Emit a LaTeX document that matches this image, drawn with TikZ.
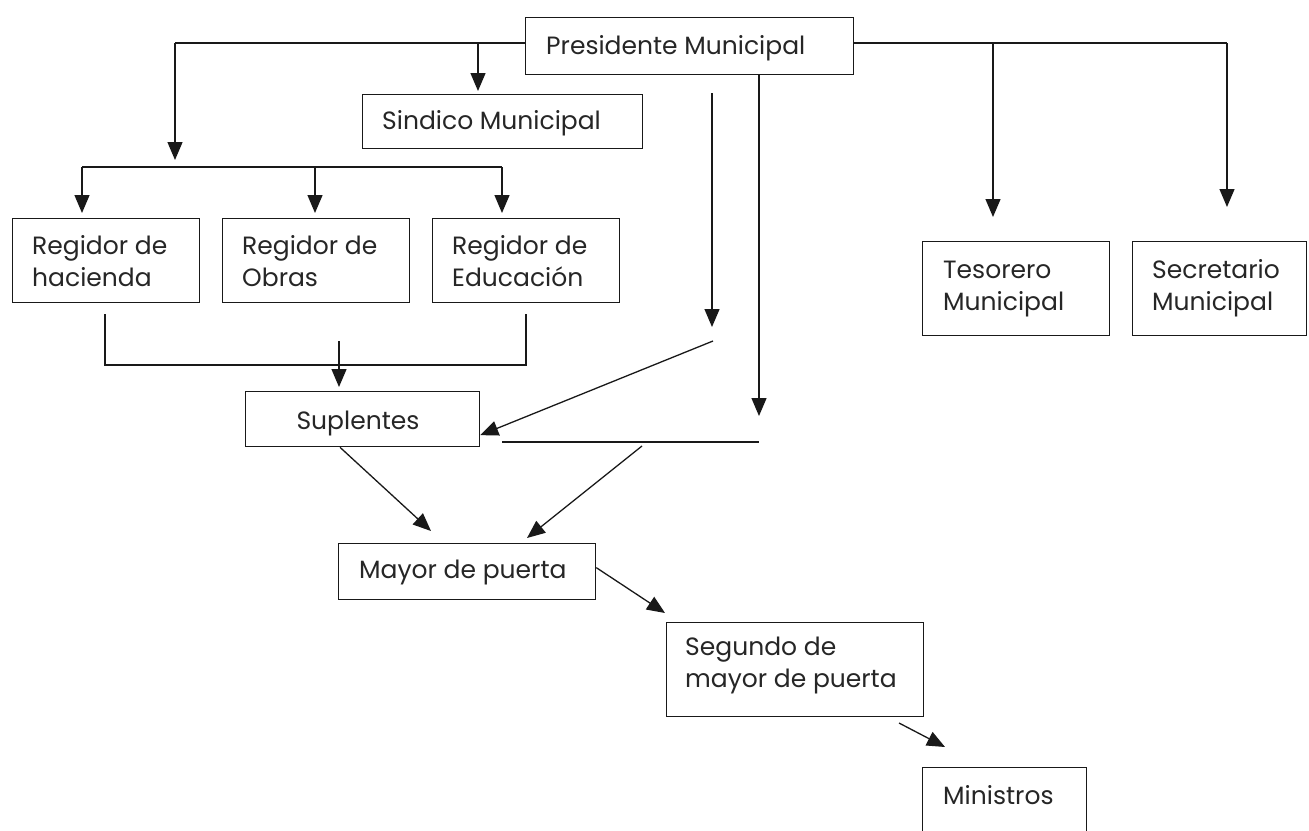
\documentclass[tikz,border=0pt]{standalone}
\usepackage{fontspec}
\setmainfont{Poppins}
\usetikzlibrary{arrows.meta}
\begin{document}
\begin{tikzpicture}[x=1pt,y=-1pt,
  box/.style={draw=black!90, line width=1.3pt, rectangle, inner sep=0pt, anchor=north west},
  txt/.style={inner sep=0pt, align=left, font=\fontsize{25}{32}\selectfont, text=black!85},
  ln/.style={draw=black!90, line width=1.3pt},
  arr/.style={ln, -{Triangle[length=18pt,width=15pt]}}]
\clip (0,0) rectangle (1309,830);
\fill[white] (0,0) rectangle (1309,830);
% boxes
\node[box, minimum width=328pt, minimum height=57pt] (pres) at (525,17) {};
\node[box, minimum width=280pt, minimum height=54pt] (sind) at (362,94) {};
\node[box, minimum width=187pt, minimum height=84pt] (reg1) at (12,218) {};
\node[box, minimum width=187pt, minimum height=84pt] (reg2) at (222,218) {};
\node[box, minimum width=187pt, minimum height=84pt] (reg3) at (432,218) {};
\node[box, minimum width=187pt, minimum height=94pt] (teso) at (922,241) {};
\node[box, minimum width=174pt, minimum height=94pt] (secr) at (1132,241) {};
\node[box, minimum width=234pt, minimum height=55pt] (supl) at (245,391) {};
\node[box, minimum width=257pt, minimum height=56pt] (mayor) at (338,543) {};
\node[box, minimum width=257pt, minimum height=94pt] (seg) at (666,622) {};
\node[box, minimum width=164pt, minimum height=90pt] (mini) at (922,767) {};
% texts
\node[txt, anchor=base west] (pres-t) at (546,54) {Presidente Municipal};
\node[txt, anchor=base west] (sind-t) at (382,129) {Sindico Municipal};
\node[txt, anchor=west] (reg1-t) at ([xshift=20pt]reg1.west) {Regidor de\\hacienda};
\node[txt, anchor=west] (reg2-t) at ([xshift=20pt]reg2.west) {Regidor de\\Obras};
\node[txt, anchor=west] (reg3-t) at ([xshift=20pt]reg3.west) {Regidor de\\Educación};
\node[txt, anchor=west] (teso-t) at ([xshift=21pt]teso.west) {Tesorero\\Municipal};
\node[txt, anchor=west] (secr-t) at ([xshift=20pt]secr.west) {Secretario\\Municipal};
\node[txt, anchor=base] (supl-t) at (358,429) {Suplentes};
\node[txt, anchor=base west] (mayor-t) at (359,578) {Mayor de puerta};
\node[txt, anchor=west] (seg-t) at ([xshift=19pt,yshift=4pt]seg.west) {Segundo de\\mayor de puerta};
\node[txt, anchor=base west] (mini-t) at (943,804) {Ministros};
% junction coordinates
\coordinate (jL) at (175,43);
\coordinate (tL) at (175,160);
\coordinate (jS) at (478,43);
\coordinate (b1) at (82,167);
\coordinate (b2) at (315,167);
\coordinate (b3) at (502,167);
\coordinate (jT) at (993,43);
\coordinate (jR) at (1227,43);
\coordinate (tR) at (1227,207);
% top connectors
\draw[ln] (pres.west |- jL) -- (jL);
\draw[arr] (jL) -- (tL);
\draw[arr] (jS) -- ([yshift=3pt]jS |- sind.north);
\draw[ln] (b1) -- (b3);
\draw[arr] (b1) -- ([yshift=5pt]b1 |- reg1.north);
\draw[arr] (b2) -- ([yshift=5pt]b2 |- reg2.north);
\draw[arr] (b3) -- ([yshift=5pt]b3 |- reg3.north);
\draw[ln] (pres.east |- jT) -- (jR);
\draw[arr] (jR) -- (tR);
\draw[arr] (jT) -- ([yshift=24pt]jT |- teso.north);
% regidores collector
\coordinate (c1) at (105,314);
\coordinate (c2) at (105,365);
\coordinate (c3) at (526,365);
\coordinate (c4) at (526,314);
\draw[ln] (c1) -- (c2) -- (c3) -- (c4);
\coordinate (sA) at (339,341);
\draw[arr] (sA) -- ([yshift=4pt]sA |- supl.north);
% presidente lower lines
\coordinate (v1a) at (712,93);
\coordinate (v1b) at (712,327);
\draw[arr] (v1a) -- (v1b);
\coordinate (v2b) at (759,416);
\draw[arr] (pres.south -| v2b) -- (v2b);
\coordinate (dA) at (713,341);
\draw[arr] (dA) -- ([yshift=-16pt]supl.east);
\coordinate (h1) at (502,442);
\coordinate (h2) at (759,442);
\draw[ln] (h1) -- (h2);
\coordinate (dB) at (642,446);
\coordinate (mT1) at (527,538);
\draw[arr] (dB) -- (mT1);
\coordinate (mT2) at (431,531);
\draw[arr] (supl.south -| 340,0) -- (mT2);
% lower chain
\coordinate (sT) at (665,613);
\draw[arr] ([yshift=4pt]mayor.east) -- (sT);
\coordinate (mS) at (899,723);
\coordinate (mE) at (945,747);
\draw[arr] (mS) -- (mE);
\end{tikzpicture}
\end{document}
